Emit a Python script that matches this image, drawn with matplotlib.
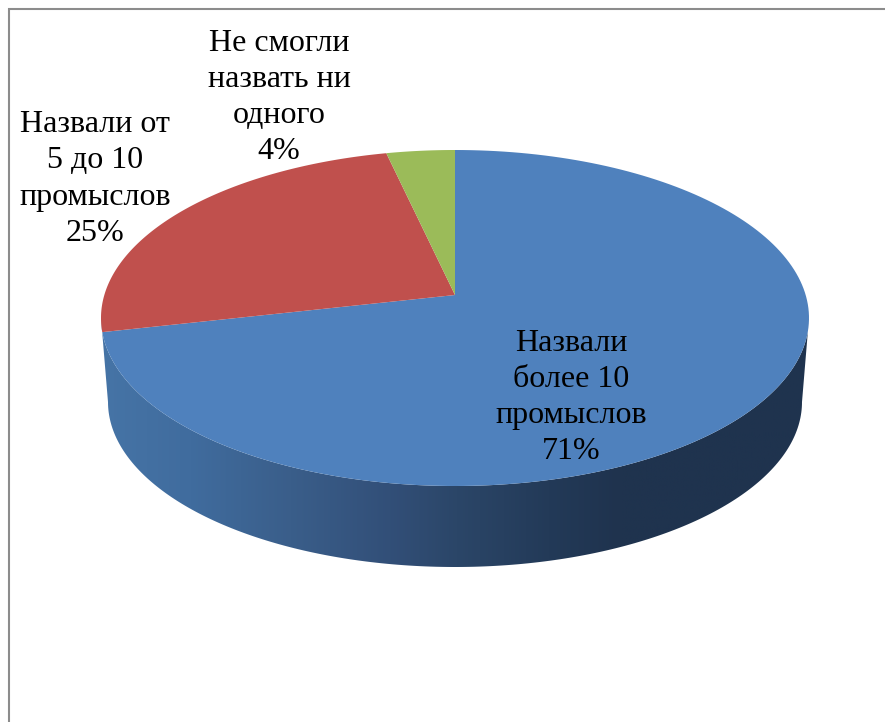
#!/usr/bin/env python3
"""Pseudo-3D pie chart drawn on a pixel-sized axes."""

import numpy as np
import matplotlib
matplotlib.use('Agg')
import matplotlib.pyplot as plt
from matplotlib.colors import LinearSegmentedColormap
from matplotlib.patches import Polygon

# data, clockwise from 12 o'clock
labels = ['Назвали\nболее 10\nпромыслов', 'Назвали от\n5 до 10\nпромыслов', 'Не смогли\nназвать ни\nодного']
values = [71, 25, 4]
colors = ['#4f81bd', '#c0504d', '#9bbb59']

# geometry of the tilted disc, in pixels
CX, CY, RX, RY = 455, 318, 354, 168     # top ellipse
BX, BY, BRX, BRY = 455, 402, 347, 165   # bottom ellipse
AX, AY = 455, 295                       # apex, sits above ellipse centre (perspective)
TILT_BACK, TILT_FRONT = 0.53, 0.41      # foreshortening differs behind and in front of the apex

plt.rcParams['font.family'] = ['Liberation Serif', 'DejaVu Serif']


def rim_angle(theta):
    """Ellipse parameter where the ray from the apex at pie angle theta meets the rim"""
    tilt = TILT_BACK if np.cos(theta) > 0 else TILT_FRONT
    dx, dy = np.sin(theta), -np.cos(theta) * tilt
    # solve ((AX + s dx - CX)/RX)^2 + ((AY + s dy - CY)/RY)^2 = 1
    a = (dx / RX) ** 2 + (dy / RY) ** 2
    b = 2 * ((AX - CX) * dx / RX ** 2 + (AY - CY) * dy / RY ** 2)
    c = ((AX - CX) / RX) ** 2 + ((AY - CY) / RY) ** 2 - 1
    s = (-b + np.sqrt(b ** 2 - 4 * a * c)) / (2 * a)
    return np.arctan2((AX + s * dx - CX) / RX, -(AY + s * dy - CY) / RY)


def rim(t, cx=CX, cy=CY, rx=RX, ry=RY):
    return np.column_stack([cx + rx * np.sin(t), cy - ry * np.cos(t)])


fig = plt.figure(figsize=(8.85, 7.22), dpi=100, facecolor='white')
ax = fig.add_axes([0, 0, 1, 1])
ax.set_xlim(0, 885)
ax.set_ylim(722, 0)
ax.axis('off')

# chart frame, clipped by the image on the right and bottom
ax.plot([9, 9, 885], [722, 8.5, 8.5], color='#8c8c8c', lw=1.5, solid_joinstyle='miter')

# side wall with horizontal gradient
lower = np.linspace(np.pi / 2, 3 * np.pi / 2, 200)
wall = np.vstack([rim(lower), rim(lower[::-1], BX, BY, BRX, BRY)])
stops = [(101, '#4674a6'), (190, '#406c9e'), (290, '#3a5e8a'), (390, '#324f78'),
         (457, '#2b4668'), (550, '#233a58'), (620, '#1f334e'), (808, '#1f334e')]
shade = LinearSegmentedColormap.from_list('wall', [((x - 101) / 707, c) for x, c in stops])
im = ax.imshow(np.linspace(0, 1, 256)[None, :], cmap=shade, aspect='auto',
               extent=[101, 808, 570, 300], zorder=2)
ax.set_xlim(0, 885)
ax.set_ylim(722, 0)
im.set_clip_path(Polygon(wall, transform=ax.transData))

# top face slices
edges = np.concatenate([[0], np.cumsum(values)]) / np.sum(values) * 2 * np.pi
for i, color in enumerate(colors):
    t0 = rim_angle(edges[i]) if i else 0.0
    t1 = rim_angle(edges[i + 1]) if i < len(colors) - 1 else 0.0
    t0, t1 = np.mod(t0, 2 * np.pi), np.mod(t1, 2 * np.pi)
    if t1 <= t0:
        t1 += 2 * np.pi
    pts = np.vstack([[AX, AY], rim(np.linspace(t0, t1, 200))])
    ax.add_patch(Polygon(pts, closed=True, facecolor=color, edgecolor='none', zorder=3))

# data labels
label_pos = [(571, 397.5), (95, 179), (279, 97.5)]
for text, value, (x, y) in zip(labels, values, label_pos):
    ax.text(x, y, f'{text}\n{value}%', ha='center', va='center', fontsize=23,
            linespacing=1.32, color='black', zorder=4)

plt.savefig('out.png', dpi=100, facecolor='white')
plt.close()
